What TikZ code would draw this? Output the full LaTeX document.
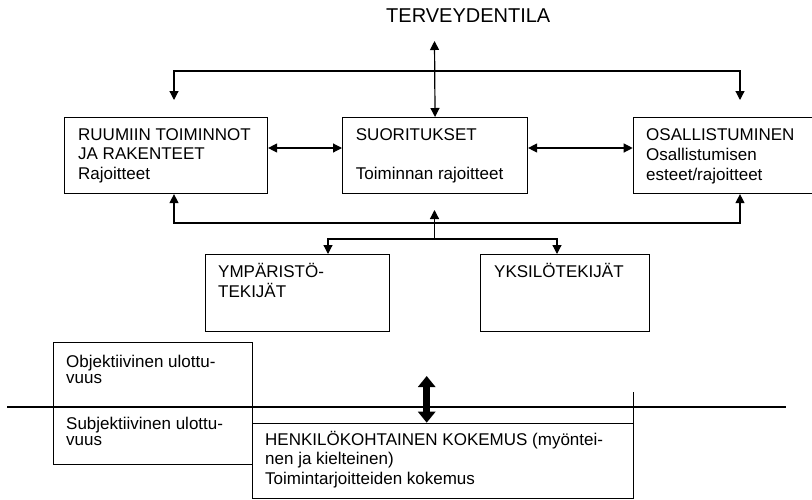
\documentclass[tikz,border=0pt]{standalone}
\usepackage{fontspec}
\setmainfont{Liberation Sans}
\usetikzlibrary{arrows.meta}
\begin{document}
\begin{tikzpicture}[x=1pt,y=-1pt,
  box/.style={draw, line width=1.1pt, rectangle, inner sep=0pt, anchor=north west},
  txt/.style={anchor=base west, inner sep=0pt, font=\fontsize{17}{19.5}\selectfont},
  ln/.style={line width=1.2pt},
  dbl/.style={ln, {Triangle[length=9pt,width=9pt]}-{Triangle[length=9pt,width=9pt]}},
  sgl/.style={ln, -{Triangle[length=9pt,width=9pt]}},
  thickdbl/.style={line width=7pt, {Triangle[length=11pt,width=17pt]}-{Triangle[length=11pt,width=17pt]}}
]
\useasboundingbox (0,0) rectangle (812,499);
\clip (0,0) rectangle (812,499);

% title
\node[txt, font=\fontsize{20}{24}\selectfont] (terv) at (386,22.7) {TERVEYDENTILA};

% main boxes
\node[box, minimum width=203pt, minimum height=76pt] (ruum) at (64,117) {};
\node[box, minimum width=185pt, minimum height=76pt] (suor) at (342,117) {};
\node[box, minimum width=184pt, minimum height=76pt] (osal) at (632.7,117) {};

\node[txt] (ruumt) at (78,140) {\vtop{\baselineskip=19.5pt \hbox{RUUMIIN TOIMINNOT}\hbox{JA RAKENTEET}\hbox{Rajoitteet}}};
\node[txt] (suort) at (355.7,140) {\vtop{\baselineskip=19.5pt \hbox{SUORITUKSET}\hbox{}\hbox{Toiminnan rajoitteet}}};
\node[txt] (osalt) at (646,140) {\vtop{\baselineskip=20pt \hbox{OSALLISTUMINEN}\hbox{Osallistumisen}\hbox{esteet/rajoitteet}}};

% factor boxes
\node[box, minimum width=184pt, minimum height=77pt] (ymp) at (205,254) {};
\node[box, minimum width=169pt, minimum height=77pt] (yks) at (480,254) {};
\node[txt] (ympt) at (218,277) {\vtop{\baselineskip=20pt \hbox{YMPÄRISTÖ-}\hbox{TEKIJÄT}}};
\node[txt] (ykst) at (494,277) {YKSILÖTEKIJÄT};

% top connectors
\coordinate (tervtip) at (434.5,41);
\draw[dbl] (suor.north) -- (tervtip);
\coordinate (tl) at (174,71);
\coordinate (tr) at (740,71);
\coordinate (tla) at (174,100);
\coordinate (tra) at (740,100);
\draw[dbl] (tla) -- (tl) -- (tr) -- (tra);

\coordinate (h1) at (0,148);
\draw[dbl] (ruum.east |- h1) -- (suor.west |- h1);
\draw[dbl] (suor.east |- h1) -- (osal.west |- h1);

% bottom connectors
\coordinate (bl) at (174,223);
\coordinate (br) at (740,223);
\draw[dbl] (ruum.south -| bl) -- (bl) -- (br) -- (osal.south -| br);
\coordinate (cj) at (434.5,239);
\coordinate (ct) at (434.5,210);
\draw[sgl] (cj) -- (ct);
\coordinate (fl) at (328,239);
\coordinate (fr) at (557,239);
\draw[dbl] (ymp.north -| fl) -- (fl) -- (fr) -- (yks.north -| fr);

% lower section
\node[box, minimum width=199pt, minimum height=65pt] (obj) at (52.7,342) {};
\node[box, minimum width=199pt, minimum height=57pt] (subj) at (52.7,407) {};
\node[txt] (objt) at (66,367.7) {\vtop{\baselineskip=15.7pt \hbox{Objektiivinen ulottu-}\hbox{vuus}}};
\node[txt] (subjt) at (66,429.3) {\vtop{\baselineskip=15.7pt \hbox{Subjektiivinen ulottu-}\hbox{vuus}}};

\coordinate (ll) at (7,407);
\coordinate (lr) at (786,407);
\draw[ln] (ll) -- (lr);

\node[box, minimum width=381pt, minimum height=75.3pt] (henk) at (251.7,422.7) {};
\draw[line width=1.1pt] (henk.north east) -- ++(0,-31);
\node[txt] (henkt) at (265,445) {\vtop{\baselineskip=19.5pt \hbox{HENKILÖKOHTAINEN KOKEMUS (myöntei-}\hbox{nen ja kielteinen)}\hbox{Toimintarjoitteiden kokemus}}};

\coordinate (ta) at (426.7,376);
\draw[thickdbl] (henk.north -| ta) -- (ta);
\end{tikzpicture}
\end{document}
